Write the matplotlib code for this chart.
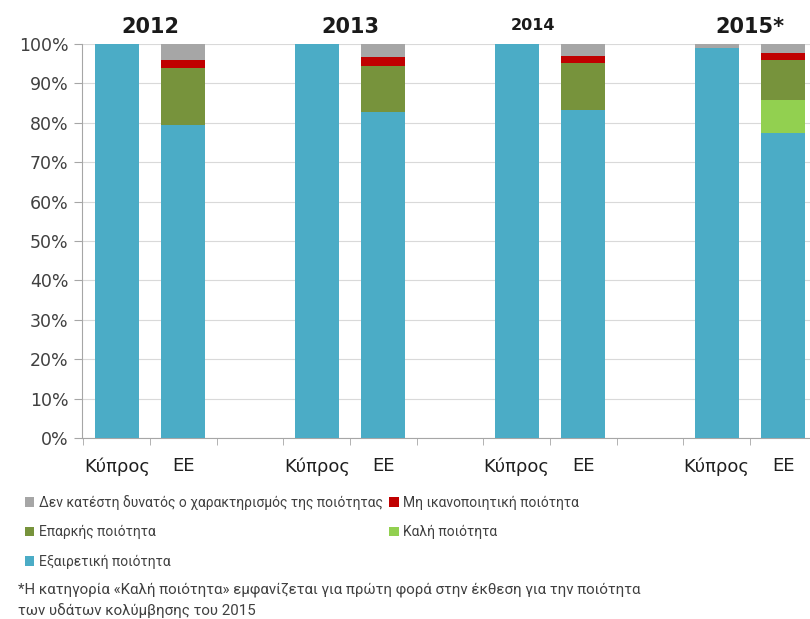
import numpy as np
import matplotlib.pyplot as plt
from matplotlib.patches import Patch

plt.rcParams['font.family'] = ['DejaVu Sans']

years = ['2012', '2013', '2014', '2015*']
places = ['Κύπρος', 'ΕΕ']

# values in % (Cyprus, EU) per year, from bottom to top of each stack
excellent_cy = [100, 100, 100, 99]
good_cy = [0, 0, 0, 0]
sufficient_cy = [0, 0, 0, 0]
poor_cy = [0, 0, 0, 0]
unclassified_cy = [0, 0, 0, 1]

excellent_eu = [79.4, 82.7, 83.2, 77.4]
good_eu = [0, 0, 0, 8.4]
sufficient_eu = [14.5, 11.7, 12.0, 10.1]
poor_eu = [2.0, 2.3, 1.8, 1.8]
unclassified_eu = [4.1, 3.3, 3.0, 2.3]

labels = ['Εξαιρετική ποιότητα', 'Καλή ποιότητα', 'Επαρκής ποιότητα',
          'Μη ικανοποιητική ποιότητα',
          'Δεν κατέστη δυνατός ο χαρακτηρισμός της ποιότητας']
colors = ['#4BACC6', '#92D050', '#77933C', '#C00000', '#A6A6A6']

series = [
    excellent_cy + excellent_eu,
    good_cy + good_eu,
    sufficient_cy + sufficient_eu,
    poor_cy + poor_eu,
    unclassified_cy + unclassified_eu,
]

n = len(years)
x_cy = np.arange(n) * 3
x_eu = x_cy + 1
x = np.concatenate([x_cy, x_eu])

fig = plt.figure(figsize=(8.1, 6.19), dpi=100)
ax = fig.add_axes([0.101, 0.2924, 0.899, 0.6365])

bottom = np.zeros(len(x))
for vals, col in zip(series, colors):
    vals = np.array(vals, dtype=float)
    ax.bar(x, vals, 0.66, bottom=bottom, color=col, zorder=3)
    bottom += vals

ax.set_ylim(0, 100)
ax.set_xlim(-0.525, 10.4)
ax.set_yticks(np.arange(0, 101, 10))
ax.set_yticklabels([f'{v}%' for v in range(0, 101, 10)], fontsize=12.5, color='#404040')
ax.grid(axis='y', color='#D9D9D9', linewidth=0.8, zorder=0)

ax.set_xticks(np.sort(x))
ax.set_xticklabels([places[i % 2] for i in range(len(x))], fontsize=13, color='#202020')
ax.tick_params(axis='x', length=0, pad=14)
ax.set_xticks(np.arange(-0.5, 10.5, 1), minor=True)
ax.tick_params(axis='x', which='minor', length=5, color='#A6A6A6')
ax.tick_params(axis='y', length=6, color='#A6A6A6')

for s in ['top', 'right']:
    ax.spines[s].set_visible(False)
for s in ['left', 'bottom']:
    ax.spines[s].set_color('#A6A6A6')

year_sizes = [15, 15, 11.5, 15]
year_dx = [0, 0, -0.25, 0]
year_dy = [101.8, 101.8, 102.8, 101.8]
for i, (yr, fs, dx, yy) in enumerate(zip(years, year_sizes, year_dx, year_dy)):
    ax.text(x_cy[i] + 0.5 + dx, yy, yr, ha='center', va='bottom',
            fontsize=fs, fontweight='bold', color='#1a1a1a', clip_on=False)

handle_order = [4, 2, 0, 3, 1]
handles = [Patch(facecolor=colors[i], label=labels[i]) for i in handle_order]
fig.legend(handles=handles, loc='upper left', bbox_to_anchor=(0.015, 0.221),
           ncol=2, frameon=False, handlelength=0.7, handleheight=0.7,
           handletextpad=0.3, columnspacing=0.5, labelspacing=1.12,
           labelcolor='#404040', prop={'family': 'Roboto', 'size': 10})

fig.text(0.022, 0.047, '*Η κατηγορία «Καλή ποιότητα» εμφανίζεται για πρώτη φορά στην έκθεση για την ποιότητα',
         fontsize=10.8, color='#404040', va='center', family='Roboto')
fig.text(0.022, 0.013, 'των υδάτων κολύμβησης του 2015',
         fontsize=10.8, color='#404040', va='center', family='Roboto')

fig.savefig('out.png', dpi=100)
